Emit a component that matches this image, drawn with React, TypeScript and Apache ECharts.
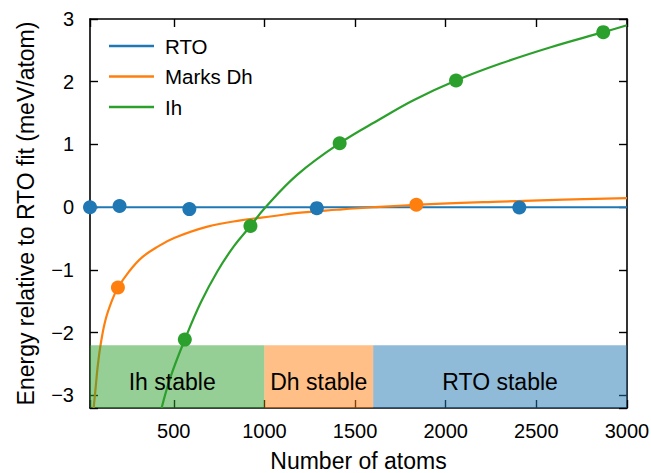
import React, { useEffect, useRef } from "react";
import * as echarts from "echarts";

// ---- data ----
const rtoCurveN = [38, 3000];
const rtoCurveE = [0, 0];
const rtoPointsN = [38, 201, 586, 1289, 2406];
const rtoPointsE = [0, 0.02, -0.03, -0.015, -0.005];

const dhCurveN = [58, 70, 80, 96, 123, 160, 193, 252, 325, 417, 502, 686, 869, 1053, 1182, 1400, 1600, 1917, 2303, 2650, 3000];
const dhCurveE = [-3.2, -2.85, -2.55, -2.2, -1.8, -1.48, -1.28, -1.03, -0.8, -0.62, -0.49, -0.31, -0.21, -0.14, -0.09, -0.04, 0.0, 0.05, 0.09, 0.12, 0.145];
const dhPointsN = [192, 1838];
const dhPointsE = [-1.28, 0.04];

const ihCurveN = [433, 483, 561, 649, 741, 832, 923, 1000, 1182, 1415, 1641, 1825, 2057, 2303, 2579, 2869, 3000];
const ihCurveE = [-3.2, -2.7, -2.11, -1.52, -1.02, -0.62, -0.3, -0.02, 0.52, 1.02, 1.41, 1.71, 2.02, 2.29, 2.55, 2.79, 2.9];
const ihPointsN = [561, 923, 1415, 2057, 2869];
const ihPointsE = [-2.11, -0.3, 1.02, 2.02, 2.79];

const seriesNames = ["RTO", "Marks Dh", "Ih"];
const regionLabels = ["Ih stable", "Dh stable", "RTO stable"];
const regionStart = [38, 1000, 1600];
const regionEnd = [1000, 1600, 3000];
const regionBottom = -3.2;
const regionTop = -2.2;

const xMin = 38;
const xMax = 3000;
const yMin = -3.2;
const yMax = 3;

const COLORS = ["#1f77b4", "#ff7f0e", "#2ca02c"];
const REGION_COLORS = ["rgba(44,160,44,0.5)", "rgba(255,127,14,0.5)", "rgba(31,119,180,0.5)"];
const FONT = "'Liberation Sans', Arial, Helvetica, sans-serif";

const zip = (a: number[], b: number[]) => a.map((v, i) => [v, b[i]]);

export default function App() {
  const ref = useRef<HTMLDivElement>(null);
  useEffect(() => {
    if (!ref.current) return;
    const chart = echarts.init(ref.current, undefined, { renderer: "svg" });
    const axisLine = { show: true, onZero: false, lineStyle: { color: "#000", width: 1.6 } };
    const tick = { show: true, inside: true, length: 8, lineStyle: { color: "#000", width: 1.4 } };
    const xLabelFmt = (v: number) => (v % 500 === 0 ? String(v) : "");
    const yLabelFmt = (v: number) =>
      Math.abs(v - Math.round(v)) < 1e-9 ? String(Math.round(v)).replace("-", "\u2212") : "";

    const curves = [
      zip(rtoCurveN, rtoCurveE),
      zip(dhCurveN, dhCurveE),
      zip(ihCurveN, ihCurveE),
    ];
    const points = [
      zip(rtoPointsN, rtoPointsE),
      zip(dhPointsN, dhPointsE),
      zip(ihPointsN, ihPointsE),
    ];

    const series: any[] = [];
    seriesNames.forEach((name, i) => {
      series.push({
        name,
        type: "line",
        data: curves[i],
        showSymbol: false,
        symbol: "none",
        smooth: i === 0 ? false : 0.4,
        lineStyle: { color: COLORS[i], width: 2.2 },
        itemStyle: { color: COLORS[i] },
        z: 2,
      });
    });
    seriesNames.forEach((name, i) => {
      series.push({
        name: name + " points",
        type: "scatter",
        data: points[i],
        symbol: "circle",
        symbolSize: 14,
        clip: false,
        itemStyle: { color: COLORS[i], opacity: 1 },
        z: 3,
      });
    });
    series.push({
      name: "regions",
      type: "line",
      data: [],
      z: 10,
      markArea: {
        silent: true,
        z: 10,
        data: regionLabels.map((label, i) => [
          {
            name: label,
            xAxis: regionStart[i],
            yAxis: regionBottom,
            itemStyle: { color: REGION_COLORS[i] },
            label: {
              show: true,
              position: "inside",
              color: "#000",
              fontSize: 23,
              fontFamily: FONT,
              offset: [i === 0 ? -5 : 0, 5],
            },
          },
          { xAxis: regionEnd[i], yAxis: regionTop },
        ]),
      },
    });

    chart.setOption({
      animation: false,
      backgroundColor: "#fff",
      textStyle: { fontFamily: FONT },
      grid: { left: 90, right: 24, top: 19, bottom: 65, containLabel: false, outerBoundsMode: "none" },
      legend: {
        data: seriesNames,
        orient: "vertical",
        left: 109,
        top: 35.5,
        padding: 0,
        itemGap: 9.5,
        itemWidth: 45,
        itemHeight: 2.5,
        icon: "rect",
        textStyle: { fontSize: 20.5, lineHeight: 21, color: "#000", fontFamily: FONT, padding: [0, 0, 0, 6] },
      },
      xAxis: [
        {
          type: "value",
          min: xMin,
          max: xMax,
          splitNumber: 6,
          position: "bottom",
          axisLine,
          axisTick: tick,
          splitLine: { show: false },
          axisLabel: { formatter: xLabelFmt, fontSize: 20, color: "#000", margin: 13, fontFamily: FONT },
          name: "Number of atoms",
          nameLocation: "middle",
          nameGap: 41,
          nameTextStyle: { fontSize: 23, color: "#000", fontFamily: FONT },
        },
        {
          type: "value",
          min: xMin,
          max: xMax,
          splitNumber: 6,
          position: "top",
          axisLine,
          axisTick: tick,
          splitLine: { show: false },
          axisLabel: { show: false },
        },
      ],
      yAxis: [
        {
          type: "value",
          min: yMin,
          max: yMax,
          splitNumber: 6,
          position: "left",
          axisLine,
          axisTick: tick,
          splitLine: { show: false },
          axisLabel: { formatter: yLabelFmt, fontSize: 20, color: "#000", margin: 16, fontFamily: FONT },
          name: "Energy relative to RTO fit (meV/atom)",
          nameLocation: "middle",
          nameRotate: 90,
          nameGap: 53,
          nameTextStyle: { fontSize: 23, color: "#000", fontFamily: FONT },
        },
        {
          type: "value",
          min: yMin,
          max: yMax,
          splitNumber: 6,
          position: "right",
          axisLine,
          axisTick: tick,
          splitLine: { show: false },
          axisLabel: { show: false },
        },
      ],
      series,
    });
    return () => chart.dispose();
  }, []);
  return <div ref={ref} style={{ width: 651, height: 473, position: "absolute", left: 0, top: 0 }} />;
}
